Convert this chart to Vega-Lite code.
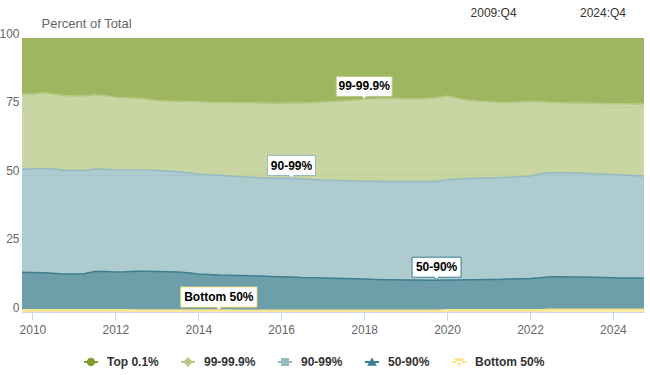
{
  "$schema": "https://vega.github.io/schema/vega-lite/v6.json",
  "width": 622,
  "height": 274,
  "autosize": {"type": "none"},
  "padding": {"left": 22, "top": 38, "right": 6, "bottom": 63},
  "background": "#ffffff",
  "config": {"view": {"stroke": null}, "font": "Liberation Sans"},
  "title": {
    "text": "2009:Q4\u00a0\u00a0\u00a0\u00a0\u00a0\u00a0\u00a0\u00a0\u00a0\u00a0\u00a0\u00a0\u00a0\u00a0\u00a0\u00a0\u00a0\u00a0\u00a02024:Q4",
    "anchor": "end",
    "frame": "group",
    "fontSize": 12,
    "fontWeight": "normal",
    "color": "#333333",
    "font": "Liberation Sans",
    "dx": -18,
    "dy": 3,
    "offset": 0
  },
  "datasets": {
    "shares": [
      {"q": "2009-10-01", "top": 20.4, "p99": 27.4, "p90": 37.7, "p50": 13.7, "b50": 0.8},
      {"q": "2010-01-01", "top": 20.5, "p99": 27.3, "p90": 37.8, "p50": 13.6, "b50": 0.8},
      {"q": "2010-04-01", "top": 20.0, "p99": 27.6, "p90": 38.1, "p50": 13.5, "b50": 0.8},
      {"q": "2010-07-01", "top": 20.4, "p99": 27.4, "p90": 38.1, "p50": 13.3, "b50": 0.8},
      {"q": "2010-10-01", "top": 21.0, "p99": 27.2, "p90": 37.9, "p50": 13.1, "b50": 0.8},
      {"q": "2011-01-01", "top": 21.2, "p99": 27.2, "p90": 37.7, "p50": 13.1, "b50": 0.8},
      {"q": "2011-04-01", "top": 21.2, "p99": 27.2, "p90": 37.6, "p50": 13.2, "b50": 0.8},
      {"q": "2011-07-01", "top": 20.7, "p99": 27.1, "p90": 37.4, "p50": 14.0, "b50": 0.8},
      {"q": "2011-10-01", "top": 21.1, "p99": 26.8, "p90": 37.3, "p50": 14.0, "b50": 0.8},
      {"q": "2012-01-01", "top": 21.6, "p99": 26.6, "p90": 37.2, "p50": 13.8, "b50": 0.8},
      {"q": "2012-04-01", "top": 21.8, "p99": 26.4, "p90": 37.1, "p50": 13.9, "b50": 0.8},
      {"q": "2012-07-01", "top": 22.0, "p99": 26.2, "p90": 36.9, "p50": 14.2, "b50": 0.7},
      {"q": "2012-10-01", "top": 22.3, "p99": 25.9, "p90": 36.9, "p50": 14.2, "b50": 0.7},
      {"q": "2013-01-01", "top": 22.8, "p99": 25.6, "p90": 36.8, "p50": 14.1, "b50": 0.7},
      {"q": "2013-04-01", "top": 23.0, "p99": 25.5, "p90": 36.8, "p50": 14.0, "b50": 0.7},
      {"q": "2013-07-01", "top": 23.1, "p99": 25.7, "p90": 36.6, "p50": 13.9, "b50": 0.7},
      {"q": "2013-10-01", "top": 23.2, "p99": 26.0, "p90": 36.5, "p50": 13.6, "b50": 0.7},
      {"q": "2014-01-01", "top": 23.3, "p99": 26.3, "p90": 36.5, "p50": 13.2, "b50": 0.7},
      {"q": "2014-04-01", "top": 23.5, "p99": 26.4, "p90": 36.4, "p50": 13.0, "b50": 0.7},
      {"q": "2014-07-01", "top": 23.5, "p99": 26.6, "p90": 36.4, "p50": 12.8, "b50": 0.7},
      {"q": "2014-10-01", "top": 23.6, "p99": 26.8, "p90": 36.2, "p50": 12.7, "b50": 0.7},
      {"q": "2015-01-01", "top": 23.6, "p99": 27.0, "p90": 36.1, "p50": 12.7, "b50": 0.6},
      {"q": "2015-04-01", "top": 23.6, "p99": 27.2, "p90": 36.0, "p50": 12.6, "b50": 0.6},
      {"q": "2015-07-01", "top": 23.7, "p99": 27.3, "p90": 35.9, "p50": 12.5, "b50": 0.6},
      {"q": "2015-10-01", "top": 23.8, "p99": 27.3, "p90": 35.9, "p50": 12.4, "b50": 0.6},
      {"q": "2016-01-01", "top": 23.8, "p99": 27.4, "p90": 35.9, "p50": 12.3, "b50": 0.6},
      {"q": "2016-04-01", "top": 23.7, "p99": 27.6, "p90": 35.9, "p50": 12.2, "b50": 0.6},
      {"q": "2016-07-01", "top": 23.7, "p99": 27.7, "p90": 36.0, "p50": 12.0, "b50": 0.6},
      {"q": "2016-10-01", "top": 23.6, "p99": 28.0, "p90": 35.9, "p50": 11.9, "b50": 0.6},
      {"q": "2017-01-01", "top": 23.4, "p99": 28.4, "p90": 35.8, "p50": 11.8, "b50": 0.6},
      {"q": "2017-04-01", "top": 23.2, "p99": 28.7, "p90": 35.8, "p50": 11.7, "b50": 0.6},
      {"q": "2017-07-01", "top": 22.9, "p99": 29.1, "p90": 35.8, "p50": 11.6, "b50": 0.6},
      {"q": "2017-10-01", "top": 22.6, "p99": 29.6, "p90": 35.7, "p50": 11.5, "b50": 0.6},
      {"q": "2018-01-01", "top": 22.4, "p99": 29.9, "p90": 35.7, "p50": 11.4, "b50": 0.6},
      {"q": "2018-04-01", "top": 22.2, "p99": 30.1, "p90": 35.8, "p50": 11.3, "b50": 0.6},
      {"q": "2018-07-01", "top": 22.0, "p99": 30.4, "p90": 35.8, "p50": 11.2, "b50": 0.6},
      {"q": "2018-10-01", "top": 22.1, "p99": 30.3, "p90": 35.8, "p50": 11.2, "b50": 0.6},
      {"q": "2019-01-01", "top": 22.2, "p99": 30.2, "p90": 35.9, "p50": 11.1, "b50": 0.6},
      {"q": "2019-04-01", "top": 22.3, "p99": 30.1, "p90": 35.9, "p50": 11.1, "b50": 0.6},
      {"q": "2019-07-01", "top": 22.1, "p99": 30.3, "p90": 36.0, "p50": 11.0, "b50": 0.6},
      {"q": "2019-10-01", "top": 21.8, "p99": 30.6, "p90": 36.0, "p50": 11.0, "b50": 0.6},
      {"q": "2020-01-01", "top": 21.2, "p99": 30.5, "p90": 36.6, "p50": 10.9, "b50": 0.8},
      {"q": "2020-04-01", "top": 22.0, "p99": 29.5, "p90": 36.8, "p50": 10.9, "b50": 0.8},
      {"q": "2020-07-01", "top": 22.7, "p99": 28.6, "p90": 36.9, "p50": 11.0, "b50": 0.8},
      {"q": "2020-10-01", "top": 23.1, "p99": 28.1, "p90": 37.0, "p50": 11.0, "b50": 0.8},
      {"q": "2021-01-01", "top": 23.3, "p99": 27.8, "p90": 37.0, "p50": 11.1, "b50": 0.8},
      {"q": "2021-04-01", "top": 23.5, "p99": 27.5, "p90": 37.1, "p50": 11.1, "b50": 0.8},
      {"q": "2021-07-01", "top": 23.5, "p99": 27.3, "p90": 37.2, "p50": 11.2, "b50": 0.8},
      {"q": "2021-10-01", "top": 23.4, "p99": 27.2, "p90": 37.3, "p50": 11.3, "b50": 0.8},
      {"q": "2022-01-01", "top": 23.2, "p99": 27.2, "p90": 37.4, "p50": 11.4, "b50": 0.8},
      {"q": "2022-04-01", "top": 23.3, "p99": 26.2, "p90": 38.0, "p50": 11.7, "b50": 0.8},
      {"q": "2022-07-01", "top": 23.5, "p99": 25.7, "p90": 37.9, "p50": 11.9, "b50": 1.0},
      {"q": "2022-10-01", "top": 23.6, "p99": 25.6, "p90": 37.9, "p50": 11.9, "b50": 1.0},
      {"q": "2023-01-01", "top": 23.7, "p99": 25.6, "p90": 37.9, "p50": 11.8, "b50": 1.0},
      {"q": "2023-04-01", "top": 23.7, "p99": 25.7, "p90": 37.8, "p50": 11.8, "b50": 1.0},
      {"q": "2023-07-01", "top": 23.8, "p99": 25.7, "p90": 37.8, "p50": 11.7, "b50": 1.0},
      {"q": "2023-10-01", "top": 23.9, "p99": 25.7, "p90": 37.8, "p50": 11.6, "b50": 1.0},
      {"q": "2024-01-01", "top": 24.0, "p99": 25.8, "p90": 37.7, "p50": 11.5, "b50": 1.0},
      {"q": "2024-04-01", "top": 24.0, "p99": 26.0, "p90": 37.6, "p50": 11.4, "b50": 1.0},
      {"q": "2024-07-01", "top": 24.1, "p99": 26.1, "p90": 37.4, "p50": 11.4, "b50": 1.0},
      {"q": "2024-10-01", "top": 24.1, "p99": 26.3, "p90": 37.3, "p50": 11.3, "b50": 1.0}
    ],
    "labels": [
      {"label": "99-99.9%", "key": "p99", "q": "2018-01-01", "pos": 77.6},
      {"label": "90-99%", "key": "p90", "q": "2016-04-01", "pos": 48.7},
      {"label": "50-90%", "key": "p50", "q": "2019-10-01", "pos": 11.6},
      {"label": "Bottom 50%", "key": "b50", "q": "2014-07-01", "pos": 0.7}
    ]
  },
  "layer": [
    {
      "data": {"name": "shares"},
      "transform": [{"fold": ["top", "p99", "p90", "p50", "b50"], "as": ["key", "value"]}],
      "mark": {"type": "area", "fillOpacity": 0.75},
      "encoding": {
        "x": {
          "field": "q", "type": "temporal", "title": null,
          "scale": {"type": "utc", "nice": false, "domain": [{"year": 2009, "month": 10, "date": 1, "utc": true}, {"year": 2024, "month": 10, "date": 1, "utc": true}]},
          "axis": {"format": "%Y", "tickCount": {"interval": "year", "step": 2}, "grid": false, "domainColor": "#ccd6eb", "tickColor": "#ccd6eb", "tickSize": 8, "labelPadding": 4, "labelColor": "#666666", "labelFontSize": 12, "labelFont": "Liberation Sans", "labelFlush": false}
        },
        "y": {
          "field": "value", "type": "quantitative", "stack": "zero", "title": "Percent of Total",
          "scale": {"domain": [0, 100], "nice": false},
          "axis": {"values": [0, 25, 50, 75, 100], "domain": false, "ticks": false, "labelPadding": 3, "labelColor": "#666666", "labelFontSize": 12, "labelFont": "Liberation Sans", "labelOffset": -5, "gridColor": "#e6e6e6", "titleAngle": 0, "titleAlign": "left", "titleBaseline": "middle", "titleX": 19, "titleY": -15, "titleFontSize": 13, "titleFontWeight": "normal", "titleColor": "#666666", "titleFont": "Liberation Sans"}
        },
        "color": {
          "field": "key", "type": "nominal",
          "scale": {"domain": ["top", "p99", "p90", "p50", "b50"], "range": ["#7f9e2c", "#b7c884", "#93bac0", "#3c7f8e", "#fbe288"]},
          "legend": {
            "orient": "none", "legendX": 62, "legendY": 317, "direction": "horizontal", "title": null, "padding": 0,
            "labelExpr": "datum.value === 'top' ? 'Top 0.1%' : datum.value === 'p99' ? '99-99.9%' : datum.value === 'p90' ? '90-99%' : datum.value === 'p50' ? '50-90%' : 'Bottom 50%'",
            "labelFont": "Liberation Sans", "labelFontSize": 12, "labelFontWeight": "bold", "labelColor": "#333333",
            "symbolSize": 196, "labelOffset": 9, "columnPadding": 22, "symbolStrokeWidth": 0, "symbolOpacity": 1
          }
        },
        "order": {"field": "key", "sort": "ascending"}
      }
    },
    {
      "data": {"name": "shares"},
      "transform": [
        {"fold": ["top", "p99", "p90", "p50", "b50"], "as": ["key", "value"]},
        {"filter": "datum.key !== 'top'"}
      ],
      "mark": {"type": "line", "strokeWidth": 1.5},
      "encoding": {
        "x": {"field": "q", "type": "temporal", "title": null},
        "y": {"field": "value", "type": "quantitative", "stack": "zero", "title": "Percent of Total"},
        "color": {"field": "key", "type": "nominal"},
        "order": {"field": "key", "sort": "ascending"}
      }
    },
    {
      "data": {"name": "shares"},
      "transform": [
        {"fold": ["top", "p99", "p90", "p50", "b50"], "as": ["key", "value"]},
        {"filter": "false"}
      ],
      "mark": {"type": "point", "filled": true, "opacity": 1},
      "encoding": {
        "x": {"field": "q", "type": "temporal", "title": null},
        "y": {"field": "value", "type": "quantitative", "stack": null, "title": "Percent of Total"},
        "color": {"field": "key", "type": "nominal"},
        "shape": {
          "field": "key", "type": "nominal",
          "scale": {"domain": ["top", "p99", "p90", "p50", "b50"], "range": [
            "M-1,-0.14H1V0.14H-1Z M0.6,0A0.6,0.6,0,1,1,-0.6,0A0.6,0.6,0,1,1,0.6,0Z",
            "M-1,-0.14H1V0.14H-1Z M0,-0.7L0.7,0L0,0.7L-0.7,0Z",
            "M-1,-0.14H1V0.14H-1Z M-0.57,-0.57H0.57V0.57H-0.57Z",
            "M-1,-0.14H1V0.14H-1Z M0,-0.65L0.7,0.55L-0.7,0.55Z",
            "M-1,-0.14H1V0.14H-1Z M0,0.65L0.7,-0.55L-0.7,-0.55Z"
          ]},
          "legend": {
            "orient": "none", "legendX": 62, "legendY": 317, "direction": "horizontal", "title": null, "padding": 0,
            "labelExpr": "datum.value === 'top' ? 'Top 0.1%' : datum.value === 'p99' ? '99-99.9%' : datum.value === 'p90' ? '90-99%' : datum.value === 'p50' ? '50-90%' : 'Bottom 50%'",
            "labelFont": "Liberation Sans", "labelFontSize": 12, "labelFontWeight": "bold", "labelColor": "#333333",
            "symbolSize": 196, "labelOffset": 9, "columnPadding": 22, "symbolStrokeWidth": 0, "symbolOpacity": 1
          }
        }
      }
    },
    {
      "data": {"name": "labels"},
      "transform": [{"filter": "datum.label === '99-99.9%'"}],
      "mark": {"type": "point", "filled": true, "fill": "#ffffff", "stroke": "#b7c884", "fillOpacity": 1, "strokeWidth": 1, "opacity": 1, "size": 400, "shape": "M-2.8,-2.3H2.8V-0.3H0.2L0,0L-0.2,-0.3H-2.8Z"},
      "encoding": {
        "x": {"field": "q", "type": "temporal", "title": null},
        "y": {"field": "pos", "type": "quantitative", "title": "Percent of Total"}
      }
    },
    {
      "data": {"name": "labels"},
      "transform": [{"filter": "datum.label === '90-99%'"}],
      "mark": {"type": "point", "filled": true, "fill": "#ffffff", "stroke": "#93bac0", "fillOpacity": 1, "strokeWidth": 1, "opacity": 1, "size": 400, "shape": "M-2.4,-2.3H2.4V-0.3H0.2L0,0L-0.2,-0.3H-2.4Z"},
      "encoding": {
        "x": {"field": "q", "type": "temporal", "title": null},
        "y": {"field": "pos", "type": "quantitative", "title": "Percent of Total"}
      }
    },
    {
      "data": {"name": "labels"},
      "transform": [{"filter": "datum.label === '50-90%'"}],
      "mark": {"type": "point", "filled": true, "fill": "#ffffff", "stroke": "#3c7f8e", "fillOpacity": 1, "strokeWidth": 1, "opacity": 1, "size": 400, "shape": "M-2.45,-2.3H2.45V-0.3H0.2L0,0L-0.2,-0.3H-2.45Z"},
      "encoding": {
        "x": {"field": "q", "type": "temporal", "title": null},
        "y": {"field": "pos", "type": "quantitative", "title": "Percent of Total"}
      }
    },
    {
      "data": {"name": "labels"},
      "transform": [{"filter": "datum.label === 'Bottom 50%'"}],
      "mark": {"type": "point", "filled": true, "fill": "#ffffff", "stroke": "#fbe288", "fillOpacity": 1, "strokeWidth": 1, "opacity": 1, "size": 400, "shape": "M-3.8,-2.3H3.8V-0.3H0.2L0,0L-0.2,-0.3H-3.8Z"},
      "encoding": {
        "x": {"field": "q", "type": "temporal", "title": null},
        "y": {"field": "pos", "type": "quantitative", "title": "Percent of Total"}
      }
    },
    {
      "data": {"name": "labels"},
      "mark": {"type": "text", "dy": -13, "fontWeight": "bold", "fontSize": 12, "font": "Liberation Sans", "color": "#000000", "baseline": "middle", "align": "center"},
      "encoding": {
        "x": {"field": "q", "type": "temporal", "title": null},
        "y": {"field": "pos", "type": "quantitative", "title": "Percent of Total"},
        "text": {"field": "label"}
      }
    }
  ]
}
